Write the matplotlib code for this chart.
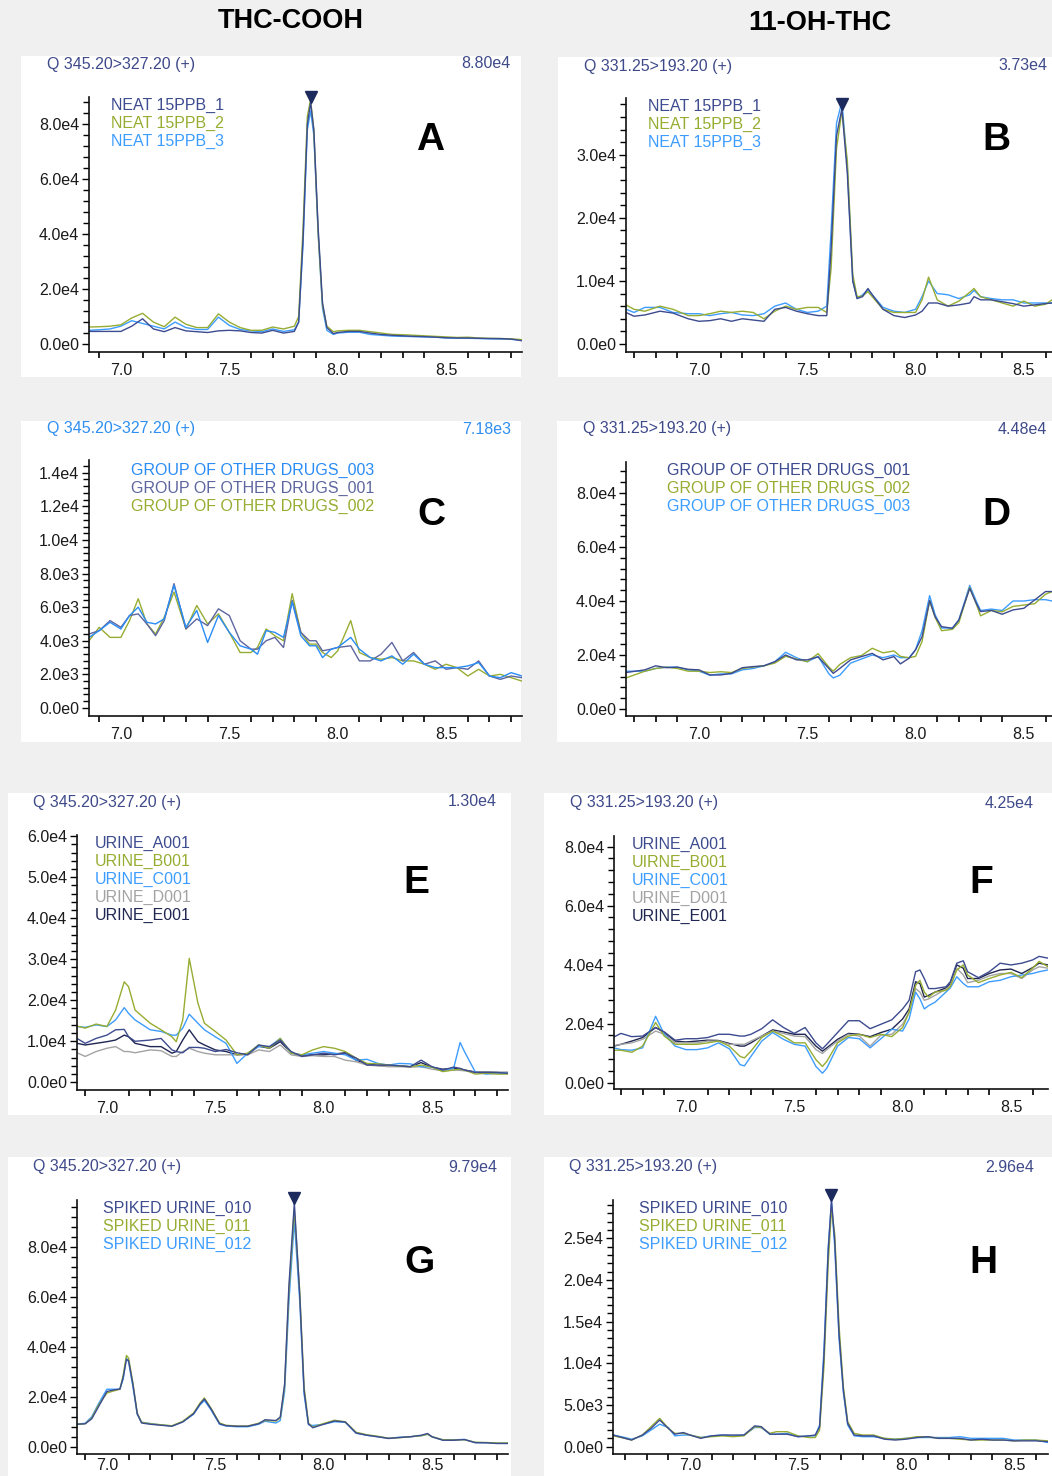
import numpy as np
import matplotlib.pyplot as plt
from matplotlib.patches import Rectangle
from matplotlib.ticker import FixedLocator, MultipleLocator, FuncFormatter
from matplotlib.transforms import offset_copy

# ---- data (intensities in units of 1e3 counts, time in min) ----
t_a = [6.853, 6.90, 6.95, 7.00, 7.05, 7.10, 7.15, 7.20, 7.25, 7.30,
       7.35, 7.40, 7.45, 7.50, 7.55, 7.60, 7.65, 7.70, 7.75, 7.80,
       7.82, 7.84, 7.86, 7.875, 7.89, 7.91, 7.93, 7.95, 7.98, 8.00,
       8.05, 8.10, 8.15, 8.20, 8.25, 8.30, 8.35, 8.40, 8.45, 8.50,
       8.55, 8.60, 8.65, 8.70, 8.75, 8.80, 8.85]
a_neat1 = [4.6, 4.6, 4.6, 4.6, 6.5, 9.2, 5.5, 4.5, 6.0, 4.8,
           4.5, 4.2, 4.8, 5.0, 4.8, 4.2, 4.0, 5.0, 4.0, 4.6,
           8.0, 38.0, 80.0, 88.0, 78.0, 42.0, 15.0, 6.0, 3.8, 4.2,
           4.6, 4.6, 4.0, 3.5, 3.2, 3.0, 2.8, 2.7, 2.5, 2.3,
           2.2, 2.2, 2.1, 2.0, 2.0, 1.8, 1.2]
a_neat2 = [6.2, 6.3, 6.5, 7.0, 9.5, 11.2, 8.0, 6.3, 9.8, 7.2,
           6.0, 6.0, 11.0, 8.0, 6.0, 5.0, 5.0, 6.2, 5.5, 6.5,
           10.0, 42.0, 83.0, 89.0, 78.0, 40.0, 14.0, 6.5, 4.5, 4.8,
           5.0, 5.0, 4.5, 4.0, 3.5, 3.4, 3.2, 3.0, 2.8, 2.6,
           2.4, 2.5, 2.2, 2.1, 2.0, 1.9, 1.6]
a_neat3 = [5.0, 5.2, 5.5, 6.5, 8.5, 7.5, 6.5, 5.5, 8.0, 6.0,
           5.3, 5.3, 9.8, 6.8, 5.3, 4.8, 4.5, 5.5, 4.6, 5.2,
           8.0, 36.0, 78.0, 85.0, 76.0, 40.0, 13.0, 5.0, 3.5, 4.0,
           4.3, 4.3, 3.5, 3.2, 2.9, 2.8, 2.7, 2.6, 2.5, 2.2,
           2.1, 2.1, 2.0, 1.9, 1.8, 1.7, 1.5]

t_b = [6.663, 6.70, 6.75, 6.82, 6.88, 6.95, 7.00, 7.05, 7.10, 7.15,
       7.20, 7.25, 7.30, 7.35, 7.40, 7.45, 7.50, 7.55, 7.59, 7.61,
       7.635, 7.66, 7.685, 7.71, 7.73, 7.755, 7.78, 7.80, 7.85, 7.90,
       7.95, 8.00, 8.03, 8.06, 8.10, 8.15, 8.20, 8.25, 8.27, 8.30,
       8.35, 8.40, 8.45, 8.50, 8.55, 8.60, 8.63]
b_neat1 = [5.0, 4.4, 4.6, 5.2, 4.9, 4.0, 3.6, 3.7, 4.0, 3.6,
           4.0, 3.8, 3.6, 5.5, 5.8, 5.2, 4.8, 4.5, 4.5, 15.0,
           33.0, 37.3, 27.0, 10.0, 7.2, 7.5, 8.8, 7.8, 5.5, 4.5,
           4.2, 4.6, 5.2, 6.5, 6.5, 6.0, 6.2, 6.5, 7.5, 7.0,
           7.0, 6.7, 6.4, 6.0, 6.2, 6.4, 6.5]
b_neat2 = [6.2, 5.5, 5.2, 6.0, 5.5, 4.5, 4.5, 4.8, 5.2, 5.0,
           5.2, 5.0, 4.0, 5.2, 6.0, 5.5, 5.8, 5.8, 5.0, 12.0,
           31.0, 37.0, 29.0, 11.0, 7.5, 7.6, 8.3, 7.5, 5.5, 5.0,
           5.0, 5.0, 7.0, 10.6, 7.0, 6.0, 6.8, 8.2, 8.8, 7.5,
           7.0, 6.5, 6.0, 6.8, 6.0, 6.3, 7.0]
b_neat3 = [5.5, 5.0, 5.8, 5.8, 5.0, 4.8, 4.8, 4.5, 4.8, 5.0,
           4.6, 4.5, 4.8, 6.0, 6.5, 5.5, 5.0, 5.2, 6.0, 18.0,
           35.0, 38.5, 28.0, 10.0, 7.2, 7.8, 8.6, 7.8, 5.8, 5.2,
           5.0, 5.5, 7.5, 10.0, 8.0, 7.8, 7.2, 7.8, 8.5, 7.5,
           7.2, 7.0, 7.0, 6.5, 6.5, 6.5, 6.5]

t_c = [6.853, 6.90, 6.95, 7.00, 7.04, 7.08, 7.12, 7.16, 7.20, 7.245,
       7.30, 7.35, 7.40, 7.45, 7.50, 7.55, 7.60, 7.63, 7.67, 7.71,
       7.75, 7.79, 7.83, 7.87, 7.90, 7.93, 7.97, 8.00, 8.06, 8.10,
       8.15, 8.20, 8.25, 8.30, 8.35, 8.40, 8.45, 8.50, 8.55, 8.60,
       8.65, 8.70, 8.75, 8.80, 8.85]
c_drugs3 = [4.2, 4.6, 5.1, 4.7, 5.5, 6.0, 5.1, 5.0, 5.3, 7.3,
            4.8, 5.8, 3.9, 5.5, 4.5, 3.7, 3.5, 3.2, 4.6, 4.5,
            4.2, 6.3, 4.3, 3.7, 3.7, 3.0, 3.5, 3.6, 4.2, 3.5,
            3.0, 2.8, 3.1, 2.6, 3.2, 2.6, 2.4, 2.4, 2.4, 2.5,
            2.7, 1.9, 1.8, 2.1, 1.9]
c_drugs1 = [4.4, 4.6, 5.2, 4.8, 5.5, 5.6, 5.0, 4.3, 5.2, 7.4,
            4.7, 5.3, 4.9, 5.9, 5.5, 4.0, 3.5, 3.5, 4.0, 4.2,
            3.6, 6.4, 4.5, 4.0, 4.0, 3.4, 3.5, 3.6, 3.7, 2.8,
            2.8, 3.2, 3.9, 2.8, 3.3, 2.6, 2.8, 2.3, 2.4, 2.3,
            2.8, 1.9, 1.7, 1.9, 1.8]
c_drugs2 = [4.0, 4.8, 4.2, 4.2, 5.2, 6.5, 5.0, 4.4, 5.4, 6.9,
            4.7, 6.1, 5.0, 5.6, 4.5, 3.3, 3.3, 3.6, 4.7, 4.3,
            4.0, 6.8, 4.5, 3.8, 3.8, 3.3, 3.0, 3.4, 5.2, 3.3,
            3.0, 2.9, 3.0, 2.8, 2.8, 2.6, 2.3, 2.6, 2.4, 1.9,
            2.3, 1.9, 2.0, 1.8, 1.6]

t_d = [6.663, 6.75, 6.80, 6.85, 6.90, 6.95, 7.00, 7.05, 7.10, 7.15,
       7.20, 7.25, 7.30, 7.35, 7.40, 7.45, 7.50, 7.55, 7.60, 7.62,
       7.65, 7.70, 7.75, 7.80, 7.85, 7.90, 7.93, 7.97, 8.00, 8.03,
       8.065, 8.09, 8.12, 8.17, 8.20, 8.25, 8.28, 8.30, 8.35, 8.40,
       8.45, 8.50, 8.55, 8.60, 8.63]
d_drugs1 = [13.5, 14.5, 16.0, 15.3, 15.5, 14.7, 14.5, 12.6, 12.6, 13.2,
            15.3, 15.7, 16.0, 17.5, 20.0, 18.2, 18.2, 19.3, 15.0, 13.2,
            15.0, 18.2, 19.4, 20.6, 18.2, 19.4, 16.7, 18.8, 21.9, 26.8,
            40.2, 34.2, 30.5, 29.9, 33.0, 44.7, 39.2, 36.1, 36.5, 35.1,
            36.7, 37.3, 40.4, 43.5, 43.5]
d_drugs2 = [11.5, 14.0, 15.0, 15.5, 15.0, 14.0, 14.0, 13.5, 13.8, 13.5,
            15.0, 15.5, 16.0, 17.0, 19.5, 18.5, 17.5, 20.5, 15.5, 14.0,
            16.5, 19.0, 19.8, 22.5, 20.8, 21.5, 19.5, 19.0, 19.5, 25.0,
            40.0, 34.0, 29.0, 29.5, 32.0, 45.0, 39.0, 34.5, 36.5, 36.0,
            38.0, 38.5, 39.0, 42.5, 43.5]
d_drugs3 = [14.0, 14.0, 15.0, 15.5, 15.5, 14.5, 14.0, 12.5, 13.0, 13.0,
            14.5, 15.0, 16.0, 17.5, 21.0, 19.0, 17.5, 19.5, 13.0, 11.5,
            12.5, 17.0, 18.5, 20.0, 19.0, 20.0, 19.0, 19.0, 22.0, 29.0,
            42.0, 35.0, 30.0, 30.0, 33.0, 45.8, 40.0, 36.5, 37.0, 36.5,
            40.0, 40.0, 40.5, 40.5, 40.0]

t_e = [6.862, 6.90, 6.95, 7.00, 7.04, 7.08, 7.10, 7.13, 7.20, 7.25,
       7.30, 7.32, 7.35, 7.38, 7.42, 7.45, 7.50, 7.55, 7.60, 7.65,
       7.70, 7.75, 7.80, 7.85, 7.90, 7.95, 8.00, 8.05, 8.10, 8.15,
       8.20, 8.25, 8.30, 8.35, 8.40, 8.45, 8.50, 8.55, 8.60, 8.63,
       8.65, 8.70, 8.75, 8.80, 8.85]
e_urine_a = [10.7, 9.5, 10.7, 11.5, 12.8, 12.9, 11.1, 10.0, 10.3, 10.7,
             7.9, 7.5, 7.2, 8.5, 8.5, 8.3, 7.5, 8.0, 7.2, 6.7,
             9.1, 8.7, 10.3, 7.5, 6.3, 6.7, 7.1, 6.7, 7.1, 5.9,
             4.2, 4.2, 4.2, 4.0, 3.8, 5.4, 3.8, 3.0, 3.7, 3.4,
             3.0, 2.4, 2.4, 2.4, 2.2]
e_urine_b = [13.7, 13.2, 14.2, 13.6, 17.6, 24.5, 23.3, 17.6, 14.4, 12.8,
             11.1, 9.9, 15.2, 30.2, 19.3, 14.4, 12.4, 10.3, 6.7, 7.1,
             9.1, 8.3, 10.7, 7.1, 6.7, 7.9, 8.7, 8.3, 7.5, 5.9,
             4.6, 4.5, 4.2, 4.0, 3.8, 4.2, 3.7, 2.6, 3.0, 3.2,
             3.0, 2.0, 2.2, 2.0, 2.0]
e_urine_c = [13.6, 13.4, 14.0, 13.6, 15.2, 18.2, 16.8, 15.2, 12.8, 12.4,
             11.5, 11.5, 13.2, 16.6, 14.4, 12.8, 11.1, 9.5, 4.6, 7.1,
             8.7, 8.7, 10.7, 7.1, 6.7, 7.1, 7.5, 7.1, 6.7, 5.4,
             5.6, 4.6, 4.2, 4.6, 4.5, 3.8, 3.7, 3.0, 3.4, 9.7,
             7.5, 2.5, 2.0, 2.2, 2.2]
e_urine_d = [7.2, 6.3, 7.5, 8.3, 8.7, 7.5, 7.5, 7.2, 7.9, 7.7,
             6.3, 6.3, 7.5, 8.3, 7.5, 7.1, 6.7, 6.7, 6.7, 6.7,
             7.9, 7.5, 9.1, 6.7, 6.3, 6.5, 6.3, 6.3, 5.4, 5.0,
             4.2, 4.0, 3.8, 3.8, 3.7, 3.8, 3.2, 2.8, 3.0, 2.9,
             2.8, 2.5, 2.5, 2.4, 2.4]
e_urine_e = [9.5, 9.1, 9.5, 9.9, 10.3, 11.5, 11.1, 9.5, 8.7, 8.7,
             7.1, 7.5, 10.3, 12.8, 9.9, 9.1, 7.9, 7.5, 6.7, 6.9,
             8.8, 8.3, 9.9, 7.2, 6.5, 6.7, 6.7, 6.9, 7.2, 5.4,
             4.5, 4.1, 4.1, 4.0, 3.8, 4.8, 3.7, 3.2, 3.4, 3.2,
             3.0, 2.5, 2.5, 2.4, 2.4]

t_f = [6.668, 6.70, 6.75, 6.80, 6.86, 6.90, 6.95, 7.00, 7.05, 7.10,
       7.15, 7.20, 7.25, 7.27, 7.30, 7.35, 7.40, 7.45, 7.50, 7.55,
       7.60, 7.63, 7.65, 7.70, 7.75, 7.80, 7.85, 7.90, 7.95, 8.00,
       8.03, 8.06, 8.08, 8.10, 8.12, 8.15, 8.20, 8.22, 8.25, 8.28,
       8.30, 8.35, 8.40, 8.45, 8.50, 8.55, 8.60, 8.63, 8.671]
f_urine_a = [15.5, 16.7, 15.6, 15.8, 18.7, 17.2, 14.4, 14.9, 14.9, 15.3,
             16.4, 16.4, 15.8, 15.8, 16.4, 18.3, 21.3, 18.7, 16.7, 18.7,
             13.5, 11.5, 13.0, 17.0, 21.0, 21.0, 18.3, 19.8, 21.3, 25.0,
             27.9, 37.6, 38.2, 35.3, 31.9, 31.9, 32.5, 34.2, 40.5, 41.3,
             37.6, 35.6, 37.6, 40.5, 39.9, 40.5, 41.6, 42.8, 42.2]
f_urine_b = [11.0, 11.0, 10.3, 12.4, 20.4, 15.8, 13.0, 13.0, 13.0, 13.5,
             14.1, 12.4, 8.9, 8.4, 10.7, 15.3, 17.5, 15.8, 13.5, 13.5,
             7.8, 5.5, 7.2, 13.5, 15.8, 16.4, 15.3, 16.4, 15.6, 18.7,
             23.9, 33.0, 34.7, 30.7, 29.0, 30.7, 31.3, 32.5, 38.2, 39.9,
             36.5, 33.9, 35.3, 36.5, 37.4, 35.6, 38.8, 41.1, 39.3]
f_urine_c = [11.8, 11.2, 11.0, 11.8, 22.5, 16.4, 12.4, 11.2, 11.2, 11.8,
             13.5, 11.5, 6.1, 5.7, 8.9, 14.1, 17.0, 14.7, 13.0, 12.4,
             5.5, 3.2, 4.9, 12.4, 15.3, 14.9, 11.8, 14.9, 18.1, 17.5,
             21.6, 30.7, 28.4, 25.0, 26.1, 27.3, 30.7, 32.1, 35.9, 33.6,
             32.5, 32.5, 34.2, 34.7, 35.9, 36.5, 37.0, 37.6, 38.2]
f_urine_d = [12.6, 13.0, 13.5, 14.7, 17.5, 16.4, 13.5, 13.5, 13.5, 14.1,
             14.1, 13.0, 13.0, 13.0, 14.1, 15.8, 17.5, 16.7, 15.8, 15.6,
             11.2, 9.9, 11.2, 14.1, 16.4, 15.8, 12.4, 16.1, 16.4, 19.8,
             23.9, 31.9, 30.7, 27.9, 28.4, 29.6, 31.7, 33.0, 38.8, 36.5,
             33.9, 34.7, 36.2, 37.0, 37.0, 35.3, 38.2, 39.3, 38.8]
f_urine_e = [12.4, 13.0, 14.1, 15.3, 18.7, 17.0, 14.1, 13.8, 14.1, 14.4,
             14.3, 13.3, 12.4, 12.4, 13.5, 15.8, 17.9, 17.2, 16.4, 16.4,
             12.4, 10.7, 11.8, 14.7, 16.7, 16.4, 15.6, 17.0, 18.1, 21.6,
             25.0, 34.2, 33.6, 29.0, 29.6, 30.7, 32.1, 33.6, 39.9, 38.8,
             35.3, 35.3, 37.0, 38.2, 38.5, 37.0, 39.0, 40.5, 39.9]

t_g = [6.862, 6.90, 6.93, 6.96, 7.00, 7.03, 7.06, 7.075, 7.09, 7.10,
       7.12, 7.14, 7.16, 7.20, 7.25, 7.30, 7.35, 7.40, 7.43, 7.45,
       7.48, 7.52, 7.55, 7.60, 7.65, 7.70, 7.73, 7.78, 7.80, 7.82,
       7.84, 7.865, 7.89, 7.91, 7.93, 7.95, 8.00, 8.05, 8.10, 8.15,
       8.20, 8.25, 8.30, 8.35, 8.40, 8.45, 8.48, 8.50, 8.55, 8.60,
       8.65, 8.70, 8.75, 8.80, 8.85]
g_spiked10 = [9.0, 9.2, 11.2, 15.8, 22.1, 22.7, 23.1, 27.7, 34.9, 34.5,
              25.0, 13.2, 9.5, 9.0, 8.6, 8.2, 9.9, 13.2, 17.1, 19.1,
              15.2, 9.2, 8.4, 8.2, 8.2, 9.2, 10.8, 10.5, 11.9, 25.0,
              64.6, 97.5, 60.6, 22.4, 9.2, 7.6, 9.0, 10.3, 9.9, 5.5,
              4.6, 4.0, 3.3, 3.7, 4.0, 4.6, 5.3, 4.0, 2.6, 2.6,
              2.9, 1.6, 1.6, 1.3, 1.3]
g_spiked11 = [9.0, 9.2, 11.5, 16.5, 21.5, 22.3, 23.0, 28.5, 36.5, 35.5,
              25.5, 13.5, 9.8, 9.2, 8.8, 8.4, 10.2, 13.5, 17.5, 19.5,
              15.5, 9.5, 8.6, 8.3, 8.3, 9.4, 10.5, 10.3, 11.5, 24.0,
              62.0, 95.0, 62.0, 24.0, 9.5, 7.8, 9.3, 10.6, 10.0, 5.8,
              4.8, 4.2, 3.4, 3.6, 4.0, 4.4, 5.0, 4.0, 2.8, 2.7,
              2.8, 1.8, 1.7, 1.5, 1.5]
g_spiked12 = [9.0, 9.4, 12.0, 17.0, 23.0, 23.0, 23.0, 27.0, 35.5, 34.0,
              24.0, 13.0, 9.8, 9.3, 8.7, 8.3, 10.0, 13.0, 16.8, 18.5,
              14.8, 9.0, 8.3, 8.0, 8.0, 9.0, 10.2, 9.5, 10.5, 22.0,
              58.0, 90.5, 58.0, 21.0, 8.8, 8.5, 9.0, 10.0, 9.8, 5.4,
              4.6, 4.0, 3.4, 3.8, 4.0, 4.4, 5.0, 4.0, 2.8, 2.8,
              2.9, 1.7, 1.6, 1.4, 1.4]

t_h = [6.645, 6.70, 6.73, 6.78, 6.82, 6.86, 6.90, 6.93, 6.97, 7.00,
       7.05, 7.10, 7.15, 7.20, 7.25, 7.30, 7.33, 7.37, 7.40, 7.45,
       7.50, 7.55, 7.58, 7.60, 7.62, 7.64, 7.655, 7.67, 7.69, 7.71,
       7.73, 7.76, 7.80, 7.85, 7.90, 7.95, 8.00, 8.05, 8.10, 8.15,
       8.20, 8.25, 8.30, 8.35, 8.40, 8.45, 8.50, 8.55, 8.60, 8.657]
h_spiked10 = [1.4, 1.0, 0.8, 1.4, 2.2, 3.2, 2.2, 1.5, 1.7, 1.4,
              1.0, 1.3, 1.4, 1.4, 1.4, 2.5, 2.4, 1.5, 1.5, 1.5,
              1.2, 1.3, 1.4, 2.4, 10.8, 23.5, 29.6, 24.7, 13.5, 6.8,
              2.8, 1.4, 1.3, 1.3, 0.9, 0.8, 0.9, 1.1, 1.2, 1.0,
              1.0, 1.0, 0.8, 0.9, 0.8, 0.8, 0.7, 0.7, 0.7, 0.6]
h_spiked11 = [1.3, 1.0, 0.8, 1.4, 2.4, 3.4, 2.2, 1.6, 1.6, 1.4,
              1.1, 1.2, 1.3, 1.2, 1.3, 2.4, 2.3, 1.6, 1.8, 1.8,
              1.3, 1.1, 1.1, 2.0, 9.5, 22.0, 28.5, 25.5, 14.5, 7.2,
              3.0, 1.6, 1.4, 1.4, 1.0, 0.9, 1.0, 1.2, 1.2, 1.0,
              1.0, 0.9, 0.8, 0.8, 0.8, 0.8, 0.7, 0.8, 0.8, 0.7]
h_spiked12 = [1.4, 1.1, 0.9, 1.3, 2.0, 2.7, 2.3, 1.3, 1.4, 1.4,
              1.1, 1.3, 1.4, 1.3, 1.4, 2.3, 2.3, 1.5, 1.5, 1.6,
              1.2, 1.3, 1.3, 2.6, 11.5, 24.0, 29.3, 24.0, 13.0, 6.5,
              2.6, 1.3, 1.2, 1.2, 1.0, 0.9, 1.0, 1.1, 1.1, 1.1,
              1.1, 1.2, 1.0, 1.0, 1.0, 1.0, 0.8, 0.8, 0.8, 0.5]

neat_labels = ['NEAT 15PPB_1', 'NEAT 15PPB_2', 'NEAT 15PPB_3']
c_labels = ['GROUP OF OTHER DRUGS_003', 'GROUP OF OTHER DRUGS_001', 'GROUP OF OTHER DRUGS_002']
d_labels = ['GROUP OF OTHER DRUGS_001', 'GROUP OF OTHER DRUGS_002', 'GROUP OF OTHER DRUGS_003']
e_labels = ['URINE_A001', 'URINE_B001', 'URINE_C001', 'URINE_D001', 'URINE_E001']
f_labels = ['URINE_A001', 'UIRNE_B001', 'URINE_C001', 'URINE_D001', 'URINE_E001']
spiked_labels = ['SPIKED URINE_010', 'SPIKED URINE_011', 'SPIKED URINE_012']
mrm_cooh = 'Q 345.20>327.20 (+)'
mrm_oh = 'Q 331.25>193.20 (+)'
max_labels = ['8.80e4', '3.73e4', '7.18e3', '4.48e4', '1.30e4', '4.25e4', '9.79e4', '2.96e4']

# ---- styling ----
W, H = 1052, 1476
BG = '#f0f0f0'
NAVY = '#3d4b8f'
OLIVE = '#96ad32'
SKY = '#3d9dff'
GREY = '#a3a3a3'
DARK = '#1f2652'
MIDNAVY = '#5e669f'
HEAD = '#3f4a8a'
plt.rcParams['font.family'] = ['Liberation Sans', 'DejaVu Sans']


def sci(v, pos=None):
    if abs(v) < 1e-9:
        return '0.0e0'
    e = int(np.floor(np.log10(abs(v)) + 1e-9))
    return f'{v / 10**e:.1f}e{e}'


def frac(x0, y0, x1, y1):
    return [x0 / W, 1 - y1 / H, (x1 - x0) / W, (y1 - y0) / H]


def ftext(x, y, s, **kw):
    fig.text(x / W, 1 - y / H, s, va='center', **kw)


# panel layout: white box, axes box (px), limits, ticks, header, legend, letter
panels = [
    dict(box=(21, 56, 521, 377), ax=(89, 97, 522, 352), xlim=(6.853, 8.85), ylim=(-2900, 90000),
         major=2e4, minor=4e3, mrm=mrm_cooh, hc=HEAD, hy=64, hx=(47, 511),
         t=t_a, ys=[a_neat1, a_neat2, a_neat3], labels=neat_labels, colors=[NAVY, OLIVE, SKY],
         leg=(111, 105), letter='A', lp=(430, 140), peak=True),
    dict(box=(558, 57, 1052, 377), ax=(626, 98, 1052, 352), xlim=(6.663, 8.63), ylim=(-1270, 39000),
         major=1e4, minor=2e3, mrm=mrm_oh, hc=HEAD, hy=66, hx=(584, 1047),
         t=t_b, ys=[b_neat1, b_neat2, b_neat3], labels=neat_labels, colors=[NAVY, OLIVE, SKY],
         leg=(648, 106), letter='B', lp=(996, 140), peak=True),
    dict(box=(21, 421, 521, 742), ax=(89, 460, 522, 716), xlim=(6.853, 8.85), ylim=(-480, 14760),
         major=2e3, minor=4e2, mrm=mrm_cooh, hc='#2f8ff0', hy=429, hx=(47, 511),
         t=t_c, ys=[c_drugs3, c_drugs1, c_drugs2], labels=c_labels, colors=['#2a8cf5', MIDNAVY, OLIVE],
         leg=(131, 470), letter='C', lp=(431, 515), peak=False),
    dict(box=(557, 421, 1052, 742), ax=(626, 462, 1052, 716), xlim=(6.663, 8.63), ylim=(-2600, 91500),
         major=2e4, minor=4e3, mrm=mrm_oh, hc=HEAD, hy=429, hx=(583, 1047),
         t=t_d, ys=[d_drugs1, d_drugs2, d_drugs3], labels=d_labels, colors=[NAVY, OLIVE, SKY],
         leg=(667, 470), letter='D', lp=(996, 515), peak=False),
    dict(box=(8, 793, 511, 1115), ax=(77, 835, 508, 1090), xlim=(6.862, 8.851), ylim=(-1880, 60300),
         major=1e4, minor=2e3, mrm=mrm_cooh, hc=HEAD, hy=802, hx=(33, 497),
         t=t_e, ys=[e_urine_a, e_urine_b, e_urine_c, e_urine_d, e_urine_e], labels=e_labels,
         colors=[NAVY, OLIVE, SKY, GREY, DARK],
         leg=(95, 843), letter='E', lp=(416, 883), peak=False),
    dict(box=(544, 793, 1052, 1115), ax=(614, 836, 1048, 1089), xlim=(6.668, 8.671), ylim=(-2140, 83600),
         major=2e4, minor=4e3, mrm=mrm_oh, hc=HEAD, hy=803, hx=(570, 1034),
         t=t_f, ys=[f_urine_a, f_urine_b, f_urine_c, f_urine_d, f_urine_e], labels=f_labels,
         colors=[NAVY, OLIVE, SKY, GREY, DARK],
         leg=(632, 844), letter='F', lp=(981, 883), peak=False),
    dict(box=(8, 1157, 511, 1476), ax=(77, 1200, 508, 1454), xlim=(6.862, 8.851), ylim=(-2900, 98700),
         major=2e4, minor=4e3, mrm=mrm_cooh, hc=HEAD, hy=1167, hx=(33, 497),
         t=t_g, ys=[g_spiked10, g_spiked11, g_spiked12], labels=spiked_labels, colors=[NAVY, OLIVE, SKY],
         leg=(103, 1208), letter='G', lp=(419, 1263), peak=True),
    dict(box=(544, 1157, 1052, 1476), ax=(613, 1200, 1048, 1454), xlim=(6.644, 8.657), ylim=(-875, 29580),
         major=5e3, minor=1e3, mrm=mrm_oh, hc=HEAD, hy=1167, hx=(569, 1034),
         t=t_h, ys=[h_spiked10, h_spiked11, h_spiked12], labels=spiked_labels, colors=[NAVY, OLIVE, SKY],
         leg=(639, 1208), letter='H', lp=(983, 1263), peak=True),
]

fig = plt.figure(figsize=(W / 100, H / 100), dpi=100, facecolor=BG)

for p, mx in zip(panels, max_labels):
    bx0, by0, bx1, by1 = p['box']
    fig.patches.append(Rectangle((bx0 / W, 1 - by1 / H), (bx1 - bx0) / W, (by1 - by0) / H,
                                 transform=fig.transFigure, facecolor='white', edgecolor='none', zorder=-10))
    ax = fig.add_axes(frac(*p['ax']))
    ax.set_zorder(5)
    ax.set_facecolor('none')
    t = np.array(p['t'])
    for y, c in list(zip(p['ys'], p['colors']))[::-1]:
        ax.plot(t, np.array(y) * 1000, color=c, lw=1.0)
    if p['peak']:
        y0 = np.array(p['ys'][0]) * 1000
        i = int(np.argmax(y0))
        tr = offset_copy(ax.transData, fig=fig, x=0, y=5, units='dots')
        ax.plot(t[i], y0[i], marker='v', color='#1c2a5e', markersize=9, transform=tr, clip_on=False)
    ax.set_xlim(*p['xlim'])
    ax.set_ylim(*p['ylim'])
    top = p['ylim'][1]
    ax.yaxis.set_major_locator(FixedLocator(np.arange(0, top + 1, p['major'])))
    ax.yaxis.set_minor_locator(FixedLocator(np.arange(0, top + 1, p['minor'])))
    ax.yaxis.set_major_formatter(FuncFormatter(sci))
    ax.xaxis.set_major_locator(FixedLocator([7.0, 7.5, 8.0, 8.5]))
    ax.xaxis.set_major_formatter(FuncFormatter(lambda v, pos: f'{v:.1f}'))
    ax.xaxis.set_minor_locator(MultipleLocator(0.1))
    for s in ['top', 'right']:
        ax.spines[s].set_visible(False)
    for s in ['left', 'bottom']:
        ax.spines[s].set_linewidth(1.2)
        ax.spines[s].set_color('#111111')
    xpad = 3 if by1 >= H else 8
    ax.tick_params(axis='y', which='major', length=5, width=1.0, pad=2, labelsize=11.5, labelcolor='#1a1a1a')
    ax.tick_params(axis='y', which='minor', length=4.5, width=1.0)
    ax.tick_params(axis='x', which='major', length=0, pad=xpad, labelsize=11.5, labelcolor='#1a1a1a')
    ax.tick_params(axis='x', which='minor', length=4, width=1.2)

    ftext(p['hx'][0], p['hy'], p['mrm'], color=p['hc'], fontsize=11.5, ha='left')
    ftext(p['hx'][1], p['hy'], mx, color=p['hc'], fontsize=11.5, ha='right')
    lx, ly = p['leg']
    for k, (lab, c) in enumerate(zip(p['labels'], p['colors'])):
        ftext(lx, ly + 18 * k, lab, color=c, fontsize=11.5, ha='left')
    ftext(p['lp'][0], p['lp'][1], p['letter'], fontsize=28, fontweight='bold', ha='center', color='black')

ftext(291, 21, 'THC-COOH', fontsize=19.5, fontweight='bold', ha='center')
ftext(820, 23, '11-OH-THC', fontsize=19.5, fontweight='bold', ha='center')

fig.savefig('out.png', dpi=100, facecolor=BG)
